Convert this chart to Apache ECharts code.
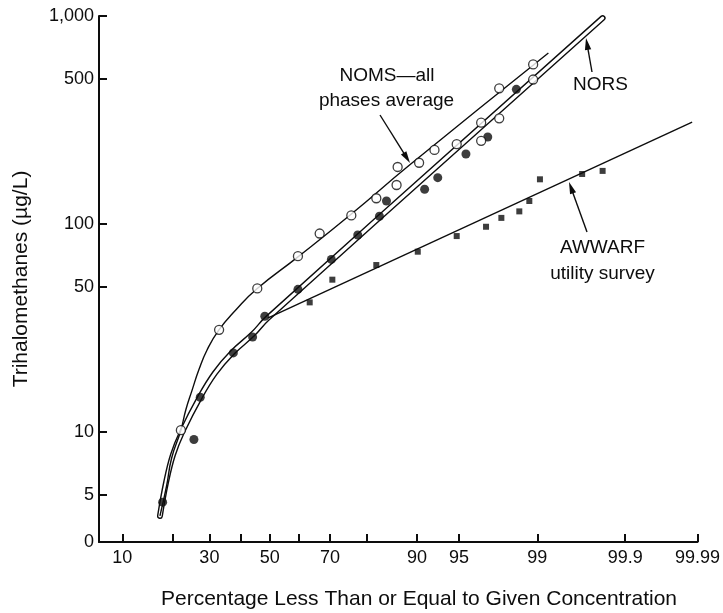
<!DOCTYPE html>
<html><head><meta charset="utf-8">
<script src="https://cdn.jsdelivr.net/npm/echarts@6/dist/echarts.min.js"></script>
<style>html,body{margin:0;padding:0;background:#fff}#c{width:723px;height:613px}</style>
</head><body><div id="c"></div>
<script>
// ---------- data: [percent less than or equal, THM µg/L] ----------
const nomsPoints = [[22.0,10.2],[33.0,31],[45.7,49],[59.7,70],[66.8,90],[76.1,110],[82.3,133],[86.7,188],[86.5,154],[90.3,197],[92.4,227],[94.8,242],[96.7,307],[96.7,251],[97.7,322],[97.7,449],[98.9,585],[98.9,495]];
const norsPoints = [[17.6,4.6],[25.5,9.2],[27.3,14.7],[37.6,24],[44.1,28.6],[48.3,36],[59.7,48.5],[70.4,67.6],[77.8,88.5],[83.0,109],[84.5,129],[91.1,147],[92.8,167],[95.6,217],[97.1,262],[98.4,444]];
const awwarfPoints = [[63.6,42],[70.7,54],[82.3,63.5],[90.1,73.6],[94.8,87.5],[97.0,97],[97.8,107],[98.5,115],[98.8,129],[99.06,164],[99.67,174],[99.81,180]];
const norsCurve = [[17.0,3.95],[18.4,5.75],[20.0,7.75],[22.3,10],[27.2,14.7],[31.7,19.2],[37.4,24.2],[44.2,29.6],[49.3,35.3],[99.81,977]];
const nomsCurve = [[17.0,3.95],[18.5,5.5],[19.7,7.5],[22.0,10.2],[23.3,12.8],[25.0,15.9],[26.9,19.9],[29.3,24.8],[32.9,30.9],[38.4,38.6],[45.5,48.7],[59.6,69.3],[76.2,112],[88.8,192],[99.23,664]];
const awwarfCurve = [[49.3,35.3],[99.988,309]];
const xTicks = [10,20,30,40,50,60,70,80,90,95,99,99.9,99.99];
const xLabels = [10,30,50,70,90,95,99,99.9,99.99];
const yTicks = [5,10,50,100,500,1000];
const yLabelValues = [5,10,50,100,500,1000];
const yLabelTexts = ['5','10','50','100','500','1,000'];
const yZeroLabel = '0';

// ---------- scales ----------
function probit(p){ // Acklam inverse normal CDF
  const a=[-3.969683028665376e+01,2.209460984245205e+02,-2.759285104469687e+02,1.383577518672690e+02,-3.066479806614716e+01,2.506628277459239e+00];
  const b=[-5.447609879822406e+01,1.615858368580409e+02,-1.556989798598866e+02,6.680131188771972e+01,-1.328068155288572e+01];
  const c=[-7.784894002430293e-03,-3.223964580411365e-01,-2.400758277161838e+00,-2.549732539343734e+00,4.374664141464968e+00,2.938163982698783e+00];
  const d=[7.784695709041462e-03,3.224671290700398e-01,2.445134137142996e+00,3.754408661907416e+00];
  const pl=0.02425, ph=1-pl; let q,r;
  if(p<pl){q=Math.sqrt(-2*Math.log(p));return (((((c[0]*q+c[1])*q+c[2])*q+c[3])*q+c[4])*q+c[5])/((((d[0]*q+d[1])*q+d[2])*q+d[3])*q+1);}
  if(p<=ph){q=p-0.5;r=q*q;return (((((a[0]*r+a[1])*r+a[2])*r+a[3])*r+a[4])*r+a[5])*q/(((((b[0]*r+b[1])*r+b[2])*r+b[3])*r+b[4])*r+1);}
  q=Math.sqrt(-2*Math.log(1-p));return -(((((c[0]*q+c[1])*q+c[2])*q+c[3])*q+c[4])*q+c[5])/((((d[0]*q+d[1])*q+d[2])*q+d[3])*q+1);
}
const tx = p => probit(p/100);
const ty = v => Math.log10(v);
const T = arr => arr.map(([p,v]) => [tx(p), ty(v)]);
const X_MIN = -1.484, X_MAX = tx(99.99);
const Y_MIN = 0.4712, Y_MAX = 3;
const INK = '#0d0d0d';
const FONT = '"Liberation Sans", Arial, sans-serif';

function nearest(vals, v){let bi=0,bd=1e9;vals.forEach((x,i)=>{const dd=Math.abs(x-v);if(dd<bd){bd=dd;bi=i;}});return bi;}

function arrow(x1,y1,x2,y2){
  const dx=x2-x1, dy=y2-y1, len=Math.hypot(dx,dy), ux=dx/len, uy=dy/len, nx=-uy, ny=ux;
  const L=12, W=3.2;
  const bx=x2-ux*L, by=y2-uy*L;
  return [
    {type:'line', z:20, shape:{x1:x1,y1:y1,x2:x2-ux*L*0.5,y2:y2-uy*L*0.5}, style:{stroke:INK,lineWidth:1.4}},
    {type:'polygon', z:20, shape:{points:[[x2,y2],[bx+nx*W,by+ny*W],[bx-nx*W,by-ny*W]]}, style:{fill:INK}}
  ];
}
function txt(x,y,s,size,rot){
  return {type:'text', z:20, x:x, y:y, rotation:rot||0, style:{text:s, font:size+'px '+FONT, fill:INK, align:'center', verticalAlign:'middle'}};
}

const chart = echarts.init(document.getElementById('c'), null, {renderer:'canvas'});
chart.setOption({
  animation:false,
  backgroundColor:'#fff',
  grid:{left:99, right:25, top:16, bottom:71},
  xAxis:{type:'value', min:X_MIN, max:X_MAX,
    axisLine:{onZero:false, lineStyle:{color:INK, width:2}},
    axisTick:{inside:true, length:8, customValues:xTicks.map(tx), lineStyle:{color:INK, width:2}},
    axisLabel:{customValues:xLabels.map(tx), margin:7, fontSize:18, color:INK, fontFamily:FONT,
      formatter:v=>String(xLabels[nearest(xLabels.map(tx),v)])},
    splitLine:{show:false}},
  yAxis:{type:'value', min:Y_MIN, max:Y_MAX,
    axisLine:{onZero:false, lineStyle:{color:INK, width:2}},
    axisTick:{inside:true, length:8, customValues:yTicks.map(ty), lineStyle:{color:INK, width:2}},
    axisLabel:{customValues:[Y_MIN].concat(yLabelValues.map(ty)), margin:5, fontSize:18, color:INK, fontFamily:FONT,
      formatter:v=> v < 0.6 ? yZeroLabel : yLabelTexts[nearest(yLabelValues.map(ty),v)]},
    splitLine:{show:false}},
  series:[
    {type:'line', z:2, data:T(norsCurve), smooth:0.4, showSymbol:false, silent:true, lineStyle:{color:INK,width:6,cap:'round'}},
    {type:'line', z:3, data:T(norsCurve), smooth:0.4, showSymbol:false, silent:true, lineStyle:{color:'#fff',width:3.2,cap:'round'}},
    {type:'line', z:4, data:T(nomsCurve), smooth:0.5, showSymbol:false, silent:true, lineStyle:{color:INK,width:1.4}},
    {type:'line', z:4, data:T(awwarfCurve), showSymbol:false, silent:true, lineStyle:{color:INK,width:1.4}},
    {type:'scatter', z:10, data:T(awwarfPoints), symbol:'rect', symbolSize:6, itemStyle:{color:INK}},
    {type:'scatter', z:10, data:T(norsPoints), symbol:'circle', symbolSize:9, itemStyle:{color:INK}},
    {type:'scatter', z:11, data:T(nomsPoints), symbol:'circle', symbolSize:9, itemStyle:{color:'#fff', borderColor:INK, borderWidth:1.3}}
  ],
  graphic:[
    txt(21,279,'Trihalomethanes (µg/L)',21,Math.PI/2),
    txt(419,599,'Percentage Less Than or Equal to Given Concentration',21),
    txt(387,76,'NOMS\u2014all',19),
    txt(386.5,101,'phases average',19),
    txt(600.5,84.5,'NORS',19),
    txt(602.5,248,'AWWARF',19),
    txt(602.5,274,'utility survey',19)
  ].concat(arrow(380,115,410,163), arrow(592,72,586,38), arrow(587,232,569,182))
});
</script></body></html>
